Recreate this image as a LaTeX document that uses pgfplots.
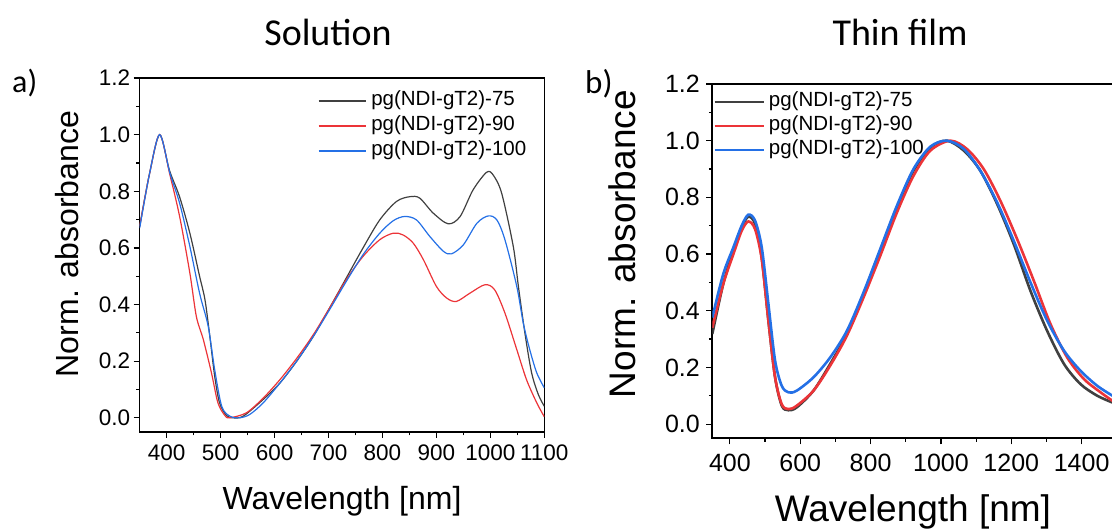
\documentclass[border=0pt]{standalone}
\usepackage{fontspec}
\setmainfont{Liberation Sans}
\newfontfamily\carlito{Carlito}
\usepackage{pgfplots}
\pgfplotsset{compat=1.18}
\definecolor{cblack}{RGB}{64,64,64}
\definecolor{cred}{RGB}{236,52,56}
\definecolor{cblue}{RGB}{36,112,230}

\pgfplotsset{
  panel/.style={
    scale only axis,
    axis line style={line width=1.4pt},
    tick align=outside,
    xtick pos=bottom, ytick pos=left,
    major tick length=6pt, minor tick length=3.5pt,
    every tick/.style={line width=1.2pt, black},
    minor x tick num=1, minor y tick num=1,
    ymin=-0.05, ymax=1.2,
    ytick={0,0.2,...,1.2},
    yticklabel style={/pgf/number format/fixed, /pgf/number format/fixed zerofill, /pgf/number format/precision=1},
    xticklabel style={/pgf/number format/1000 sep={}},
    /pgf/number format/assume math mode=true,
    legend cell align=left,
  },
}

\begin{document}
\begin{tikzpicture}
\useasboundingbox (0pt,0pt) rectangle (1112pt,529pt);
\clip (0pt,0pt) rectangle (1112pt,529pt);

% titles and panel letters
\node[anchor=base, font=\carlito\fontsize{38}{44}\selectfont] at (328pt,483pt) {Solution};
\node[anchor=base, font=\carlito\fontsize{38}{44}\selectfont] at (900pt,483pt) {Thin film};
\node[anchor=base west, inner sep=0pt, font=\carlito\fontsize{32}{38}\selectfont] at (12pt,436pt) {a)};
\node[anchor=base west, inner sep=0pt, font=\carlito\fontsize{33}{38}\selectfont] at (585pt,435pt) {b)};

% ---------------- Solution -----------------
\begin{axis}[panel,
  at={(139.7pt,97pt)}, anchor=south west,
  width=404.6pt, height=354pt,
  xmin=350, xmax=1100,
  xtick={400,500,...,1100},
  tick label style={font=\fontsize{22.5}{26}\selectfont},
  every x tick label/.append style={/tikz/yshift=-3pt},
  xlabel={Wavelength [nm]}, ylabel={Norm. absorbance},
  label style={font=\fontsize{32}{38}\selectfont},
  xlabel style={at={(axis description cs:0.5,-0.22)}, anchor=base},
  ylabel style={at={(axis description cs:-0.152,0.531)}, anchor=base},
  legend style={at={(0.44,0.962)}, anchor=north west, draw=none, fill=none,
    inner sep=0pt, row sep=6pt, column sep=5pt,
    font=\fontsize{20.5}{24}\selectfont,
    nodes={inner sep=0pt, text height=14pt, text depth=5pt}},
  legend image code/.code={\draw[#1, line width=1.4pt] (0pt,0pt) -- (47pt,0pt);},
]
\addplot[cblack, line width=1.2pt, smooth] coordinates {
(350,0.676) (368,0.86) (387,1.0) (405,0.875) (424,0.78) (443,0.652) (461,0.50)
(471,0.417) (480,0.288) (489,0.147) (498,0.053) (511,0.008) (523,0.0) (542,0.006)
(579,0.065) (610,0.123) (641,0.20) (672,0.288) (702,0.388) (733,0.494) (764,0.60)
(795,0.699) (826,0.764) (851,0.781) (869,0.776) (894,0.723) (922,0.685) (944,0.711)
(968,0.805) (993,0.867) (1005,0.858) (1021,0.793) (1042.5,0.605) (1052,0.464)
(1064,0.30) (1076.5,0.159) (1089,0.082) (1100,0.041)};
\addlegendentry{pg(NDI-gT2)-75}
\addplot[cred, line width=1.2pt, smooth] coordinates {
(350,0.676) (368,0.86) (387,1.0) (406,0.858) (424,0.711) (443,0.511) (455,0.358)
(468,0.276) (483,0.159) (495,0.053) (508,0.008) (517,0.0) (548,0.018) (579,0.07)
(610,0.135) (641,0.21) (672,0.294) (702,0.388) (733,0.488) (764,0.57) (795,0.629)
(820,0.652) (838,0.646) (857,0.617) (876,0.558) (900,0.464) (919,0.423) (937,0.411)
(962,0.44) (990,0.47) (1008,0.452) (1027,0.37) (1049,0.241) (1067,0.135) (1086,0.053)
(1100,0.004)};
\addlegendentry{pg(NDI-gT2)-90}
\addplot[cblue, line width=1.2pt, smooth] coordinates {
(350,0.67) (368,0.86) (387,1.0) (406,0.864) (424,0.758) (443,0.605) (461,0.44)
(477,0.323) (489,0.17) (502,0.041) (517,0.006) (535,0.0) (554,0.012) (579,0.053)
(610,0.123) (641,0.20) (672,0.288) (702,0.382) (733,0.482) (764,0.576) (795,0.652)
(820,0.696) (841,0.711) (863,0.699) (888,0.64) (913,0.588) (928,0.579) (950,0.611)
(975,0.687) (996,0.713) (1012,0.699) (1027,0.629) (1049,0.464) (1061,0.335)
(1073,0.241) (1086,0.159) (1100,0.106)};
\addlegendentry{pg(NDI-gT2)-100}
\end{axis}

% ---------------- Thin film -----------------
\begin{axis}[panel,
  at={(712.3pt,90.7pt)}, anchor=south west,
  width=404.5pt, height=354.3pt,
  axis line style={line width=1.8pt},
  xmin=350, xmax=1500,
  xtick={400,600,...,1400},
  tick label style={font=\fontsize{25}{29}\selectfont},
  every x tick label/.append style={/tikz/yshift=-6pt},
  every y tick label/.append style={/tikz/xshift=-3pt},
  xlabel={Wavelength [nm]}, ylabel={Norm. absorbance},
  label style={font=\fontsize{37}{44}\selectfont},
  xlabel style={at={(axis description cs:0.496,-0.236)}, anchor=base},
  ylabel style={at={(axis description cs:-0.19,0.548)}, anchor=base},
  legend style={at={(0.002,0.977)}, anchor=north west, draw=none, fill=none,
    inner sep=0pt, row sep=5pt, column sep=4pt,
    font=\fontsize{20.5}{24}\selectfont,
    nodes={inner sep=0pt, text height=14pt, text depth=5pt}},
  legend image code/.code={\draw[#1] (0pt,0pt) -- (49pt,0pt);},
]
\addplot[cblack, line width=2.6pt, smooth] coordinates {
(350,0.318) (381,0.494) (410,0.612) (433.5,0.694) (452.5,0.732) (471.5,0.706)
(490.5,0.588) (509.5,0.365) (528.5,0.165) (547.5,0.065) (566.5,0.049) (590,0.059)
(637.6,0.118) (685,0.212) (732.6,0.318) (780,0.459) (827.5,0.612) (875,0.765)
(922,0.894) (970,0.976) (1017,1.0) (1065,0.965) (1112,0.894) (1160,0.776)
(1207,0.635) (1254.6,0.47) (1302,0.329) (1350,0.212) (1397,0.141) (1444.6,0.10)
(1488,0.076)};
\addlegendentry{pg(NDI-gT2)-75}
\addplot[cred, line width=2.6pt, smooth] coordinates {
(350,0.34) (381,0.494) (410,0.60) (433.5,0.682) (452.5,0.715) (471.5,0.688)
(490.5,0.582) (509.5,0.365) (528.5,0.165) (547.5,0.07) (566.5,0.053) (590,0.065)
(637.6,0.118) (685,0.206) (732.6,0.312) (780,0.447) (827.5,0.594) (875,0.747)
(922,0.876) (970,0.965) (1027,1.0) (1074.6,0.97) (1121.5,0.90) (1169,0.788)
(1216.6,0.653) (1264,0.506) (1311.5,0.353) (1359,0.235) (1406.6,0.159) (1454,0.112)
(1488,0.082)};
\addlegendentry{pg(NDI-gT2)-90}
\addplot[cblue, line width=2.6pt, smooth] coordinates {
(350,0.376) (381,0.529) (410,0.624) (433.5,0.70) (452.5,0.739) (471.5,0.718)
(490.5,0.624) (509.5,0.424) (528.5,0.224) (547.5,0.135) (566.5,0.112) (590,0.118)
(637.6,0.165) (685,0.235) (732.6,0.329) (780,0.465) (827.5,0.618) (875,0.771)
(922,0.90) (970,0.979) (1017,1.0) (1065,0.971) (1112,0.894) (1160,0.782)
(1207,0.647) (1254.6,0.50) (1302,0.365) (1350,0.259) (1397,0.188) (1444.6,0.135)
(1488,0.10)};
\addlegendentry{pg(NDI-gT2)-100}
\end{axis}
\end{tikzpicture}
\end{document}
